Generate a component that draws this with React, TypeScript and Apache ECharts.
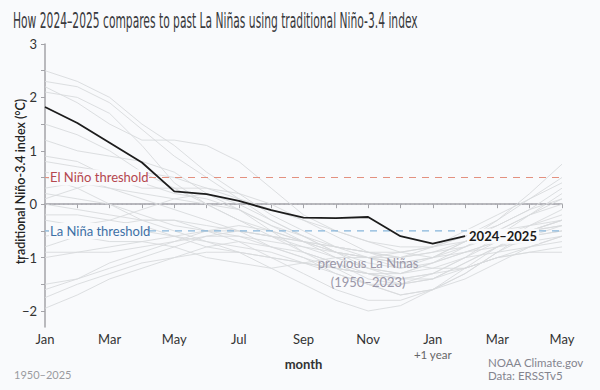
import React, { useEffect, useRef } from "react";
import * as echarts from "echarts";

const monthCategories = [
  "Jan", "Feb", "Mar", "Apr", "May", "Jun", "Jul", "Aug", "Sep", "Oct", "Nov", "Dec",
  "Jan +1", "Feb +1", "Mar +1", "Apr +1", "May +1",
];

const yTickValues = [-2, -1.5, -1, -0.5, 0, 0.5, 1, 1.5, 2, 2.5, 3];
const yLabelValues = [-2, -1, 0, 1, 2, 3];

const current2024 = [1.82, 1.52, 1.15, 0.78, 0.24, 0.19, 0.06, -0.11, -0.25, -0.26, -0.24, -0.6, -0.74, -0.6];

const pastA = [2.5, 2.3, 2.0, 1.5, 1.1, 0.6, 0.2, -0.2, -0.5, -0.8, -1.0, -1.2, -1.1, -0.8, -0.5, -0.2, 0.1];
const pastB = [2.3, 2.2, 1.9, 1.4, 0.9, 0.5, 0.1, -0.3, -0.6, -0.9, -1.2, -1.4, -1.3, -1.0, -0.6, -0.2, 0.2];
const pastC = [2.2, 1.9, 1.5, 1.2, 1.2, 1.1, 0.8, 0.3, -0.2, -0.5, -0.7, -0.9, -1.0, -0.7, -0.3, 0.2, 0.75];
const pastD = [2.1, 2.0, 1.7, 1.1, 0.4, 0.0, -0.3, -0.5, -0.7, -0.9, -1.0, -1.1, -1.0, -0.8, -0.5, -0.2, 0.0];
const pastE = [1.5, 1.3, 1.0, 0.6, 0.3, 0.0, -0.3, -0.6, -0.9, -1.1, -1.4, -1.5, -1.4, -1.1, -0.8, -0.5, -0.3];
const pastF = [0.8, 0.7, 0.6, 0.4, 0.2, 0.1, -0.1, -0.4, -0.7, -1.0, -1.2, -1.3, -1.2, -1.0, -0.9, -0.8, -0.7];
const pastG = [0.6, 0.5, 0.3, 0.1, -0.1, -0.3, -0.5, -0.8, -1.0, -1.3, -1.5, -1.7, -1.6, -1.3, -0.9, -0.5, -0.3];
const pastH = [0.3, 0.4, 0.3, 0.2, 0.1, 0.0, -0.1, -0.4, -0.6, -0.8, -0.9, -1.0, -0.9, -0.8, -0.6, -0.5, -0.4];
const pastI = [0.2, 0.1, 0.0, -0.2, -0.4, -0.5, -0.6, -0.8, -1.0, -1.2, -1.3, -1.3, -1.1, -0.9, -0.7, -0.6, -0.5];
const pastJ = [0.0, -0.1, -0.2, -0.3, -0.3, -0.4, -0.5, -0.6, -0.7, -0.8, -0.9, -0.9, -0.8, -0.6, -0.4, -0.1, 0.3];
const pastK = [-0.3, -0.4, -0.3, -0.1, 0.1, 0.2, 0.0, -0.3, -0.6, -0.9, -1.1, -1.2, -1.0, -0.7, -0.4, -0.1, 0.1];
const pastL = [-0.6, -0.5, -0.4, -0.5, -0.6, -0.7, -0.8, -0.9, -1.1, -1.3, -1.5, -1.5, -1.4, -1.1, -0.8, -0.6, -0.5];
const pastM = [-0.9, -0.9, -0.9, -0.8, -0.7, -0.6, -0.6, -0.7, -0.8, -0.9, -1.0, -1.0, -0.9, -0.7, -0.5, -0.4, -0.3];
const pastN = [-1.0, -0.9, -0.8, -0.7, -0.6, -0.5, -0.5, -0.6, -0.7, -0.8, -0.9, -1.0, -0.8, -0.5, -0.2, 0.1, 0.4];
const pastO = [-1.5, -1.4, -1.2, -1.0, -0.8, -0.6, -0.5, -0.6, -0.8, -1.0, -1.2, -1.3, -1.1, -0.9, -0.7, -0.5, -0.3];
const pastP = [-1.6, -1.4, -1.1, -0.9, -0.7, -0.5, -0.4, -0.5, -0.7, -0.9, -1.0, -1.1, -1.0, -0.9, -0.8, -0.7, -0.6];
const pastQ = [-1.75, -1.5, -1.3, -1.1, -1.0, -0.9, -0.9, -1.0, -1.1, -1.2, -1.3, -1.4, -1.3, -1.2, -1.0, -0.9, -0.9];
const pastR = [-1.95, -1.7, -1.4, -1.2, -1.0, -0.8, -0.7, -0.8, -0.9, -1.1, -1.3, -1.5, -1.3, -1.0, -0.7, -0.5, -0.4];
const pastS = [0.9, 0.8, 0.5, 0.3, 0.3, 0.3, 0.2, 0.0, -0.3, -0.6, -0.9, -1.1, -1.2, -1.2, -1.0, -0.8, -0.6];
const pastT = [1.2, 1.0, 0.9, 0.8, 0.6, 0.2, -0.1, -0.5, -0.9, -1.2, -1.5, -1.7, -1.6, -1.4, -1.1, -0.8, -0.6];
const pastU = [0.5, 0.3, 0.0, -0.3, -0.5, -0.7, -0.9, -1.2, -1.5, -1.8, -2.0, -1.9, -1.6, -1.2, -0.8, -0.4, -0.1];
const pastV = [-0.2, -0.2, -0.3, -0.4, -0.6, -0.8, -0.9, -1.0, -1.1, -1.2, -1.3, -1.4, -1.4, -1.2, -1.0, -0.9, -0.8];
const pastW = [-0.8, -0.6, -0.4, -0.3, -0.3, -0.5, -0.7, -1.0, -1.3, -1.6, -1.8, -1.8, -1.6, -1.3, -0.9, -0.6, -0.4];
const pastX = [0.1, 0.3, 0.5, 0.6, 0.5, 0.3, 0.1, -0.1, -0.3, -0.5, -0.7, -0.8, -0.8, -0.6, -0.3, 0.1, 0.5];
const pastY = [-0.5, -0.6, -0.7, -0.7, -0.8, -1.0, -1.1, -1.2, -1.1, -1.0, -1.0, -0.9, -0.8, -0.7, -0.6, -0.4, -0.2];

const pastLaNinas = [
  pastA, pastB, pastC, pastD, pastE, pastF, pastG, pastH, pastI, pastJ, pastK, pastL, pastM,
  pastN, pastO, pastP, pastQ, pastR, pastS, pastT, pastU, pastV, pastW, pastX, pastY,
];

const zeroLine = 0;
const elNinoThreshold = 0.5;
const laNinaThreshold = -0.5;

const BG = "#f9fafc";
const FONT = "'Source Sans Pro', Lato, 'Noto Sans', sans-serif";

function refLine(name: string, value: number, color: string, type: number[], width: number) {
  return {
    type: "line",
    name,
    data: monthCategories.map(() => value),
    symbol: "none",
    silent: true,
    z: 3,
    color,
    lineStyle: { color, type, width, opacity: 1 },
  };
}

export default function App() {
  const ref = useRef<HTMLDivElement>(null);

  useEffect(() => {
    if (!ref.current) return;
    const chart = echarts.init(ref.current, null, { renderer: "svg" });

    const pastSeries = pastLaNinas.map((d, i) => ({
      type: "line",
      name: "past" + i,
      data: d,
      symbol: "none",
      silent: true,
      z: 1,
      lineStyle: { color: "#d8dadd", width: 0.9 },
    }));

    chart.setOption({
      animation: false,
      backgroundColor: BG,
      textStyle: { fontFamily: FONT },
      grid: { left: 45, right: 38, top: 44, bottom: 63, outerBoundsMode: "none", containLabel: false },
      xAxis: {
        type: "category",
        data: monthCategories,
        boundaryGap: false,
        name: "month",
        nameLocation: "middle",
        nameGap: 30,
        nameTextStyle: { fontSize: 13, fontWeight: "bold", color: "#333", fontFamily: FONT },
        axisLine: { lineStyle: { color: "#a3a3a8", width: 1.5 } },
        axisTick: { interval: 0, length: 4, lineStyle: { color: "#a3a3a8", width: 1 } },
        axisLabel: {
          interval: 1,
          margin: 5,
          fontSize: 13,
          color: "#333",
          fontFamily: FONT,
          formatter: (v: string) => v.replace(" +1", ""),
        },
        splitLine: { show: false },
      },
      yAxis: {
        type: "value",
        min: -2.3,
        max: 3,
        axisLine: { show: true, lineStyle: { color: "#a3a3a8", width: 1.5 } },
        axisTick: { show: true, length: 4, customValues: yTickValues, lineStyle: { color: "#a3a3a8" } },
        axisLabel: {
          customValues: yLabelValues,
          fontSize: 13,
          color: "#333",
          margin: 8,
          fontFamily: FONT,
          formatter: (v: number) => String(v).replace("-", "\u2212"),
        },
        splitLine: { show: false },
      },
      series: [
        ...pastSeries,
        refLine("zero", zeroLine, "#a8a8b0", [1.5, 3], 1),
        refLine("El Niño threshold", elNinoThreshold, "#e3907f", [7, 6], 1.1),
        refLine("La Niña threshold", laNinaThreshold, "#86b5da", [7, 6], 1.1),
        {
          type: "line",
          name: "2024–2025",
          data: current2024,
          symbol: "none",
          z: 5,
          lineStyle: { color: "#1c1c1c", width: 1.8 },
          endLabel: {
            show: true,
            formatter: "2024–2025",
            fontSize: 13,
            fontWeight: "bold",
            color: "#1a1a1a",
            fontFamily: FONT,
            backgroundColor: BG,
            padding: [1, 2],
            distance: 2,
          },
        },
      ],
    });

    const y = (v: number) => chart.convertToPixel({ yAxisIndex: 0 }, v) as number;
    const x = (i: number) => chart.convertToPixel({ xAxisIndex: 0 }, i) as number;

    const titleText = "How 2024–2025 compares to past La Niñas using traditional Niño-3.4 index";
    const titleFont = "'Liberation Sans Narrow', 'DejaVu Sans Condensed', sans-serif";
    let titleScale = 1;
    try {
      const ctx = document.createElement("canvas").getContext("2d");
      if (ctx) {
        ctx.font = `21px ${titleFont}`;
        const w = ctx.measureText(titleText).width;
        if (w > 0) titleScale = 405 / w;
      }
    } catch (e) {}

    chart.setOption({
      graphic: [
        {
          type: "text",
          x: 13,
          y: 31,
          z: 100,
          scaleX: titleScale,
          style: {
            text: titleText,
            font: `21px ${titleFont}`,
            fill: "#3a3a3e",
            verticalAlign: "bottom",
          },
        },
        {
          type: "text",
          x: 20,
          y: (y(3) + y(-2.3)) / 2 - 4,
          rotation: Math.PI / 2,
          z: 100,
          style: {
            text: "traditional Niño-3.4 index (°C)",
            font: `600 12.5px ${FONT}`,
            fill: "#222",
            align: "center",
            verticalAlign: "middle",
          },
        },
        {
          type: "rect",
          z: 99,
          shape: { x: 49, y: y(elNinoThreshold) - 8, width: 98, height: 16 },
          style: { fill: BG },
        },
        {
          type: "text",
          x: 50,
          y: y(elNinoThreshold),
          z: 100,
          style: {
            text: "El Niño threshold",
            font: `13px ${FONT}`,
            fill: "#b5474f",
            verticalAlign: "middle",
          },
        },
        {
          type: "rect",
          z: 99,
          shape: { x: 49, y: y(laNinaThreshold) - 8, width: 98, height: 16 },
          style: { fill: BG },
        },
        {
          type: "text",
          x: 50,
          y: y(laNinaThreshold),
          z: 100,
          style: {
            text: "La Niña threshold",
            font: `13px ${FONT}`,
            fill: "#3d70a6",
            verticalAlign: "middle",
          },
        },
        {
          type: "text",
          x: x(12),
          y: 354,
          z: 100,
          style: {
            text: "+1 year",
            font: `11.5px ${FONT}`,
            fill: "#666",
            align: "center",
            verticalAlign: "middle",
          },
        },
        {
          type: "text",
          x: x(10),
          y: y(-1.27),
          z: 100,
          style: {
            text: "previous La Niñas\n(1950–2023)",
            font: `13px ${FONT}`,
            fill: "#9a97a8",
            align: "center",
            verticalAlign: "middle",
            lineHeight: 19,
          },
        },
        {
          type: "text",
          x: 488,
          y: 369,
          z: 100,
          style: {
            text: "NOAA Climate.gov\nData: ERSSTv5",
            font: `11.5px ${FONT}`,
            fill: "#84848e",
            verticalAlign: "middle",
            lineHeight: 13,
          },
        },
        {
          type: "text",
          x: 14,
          y: 374,
          z: 100,
          style: {
            text: "1950–2025",
            font: `11px ${FONT}`,
            fill: "#9a9aa0",
            verticalAlign: "middle",
          },
        },
      ],
    });

    return () => chart.dispose();
  }, []);

  return (
    <div
      ref={ref}
      style={{ position: "fixed", left: 0, top: 0, width: 600, height: 390 }}
    />
  );
}
